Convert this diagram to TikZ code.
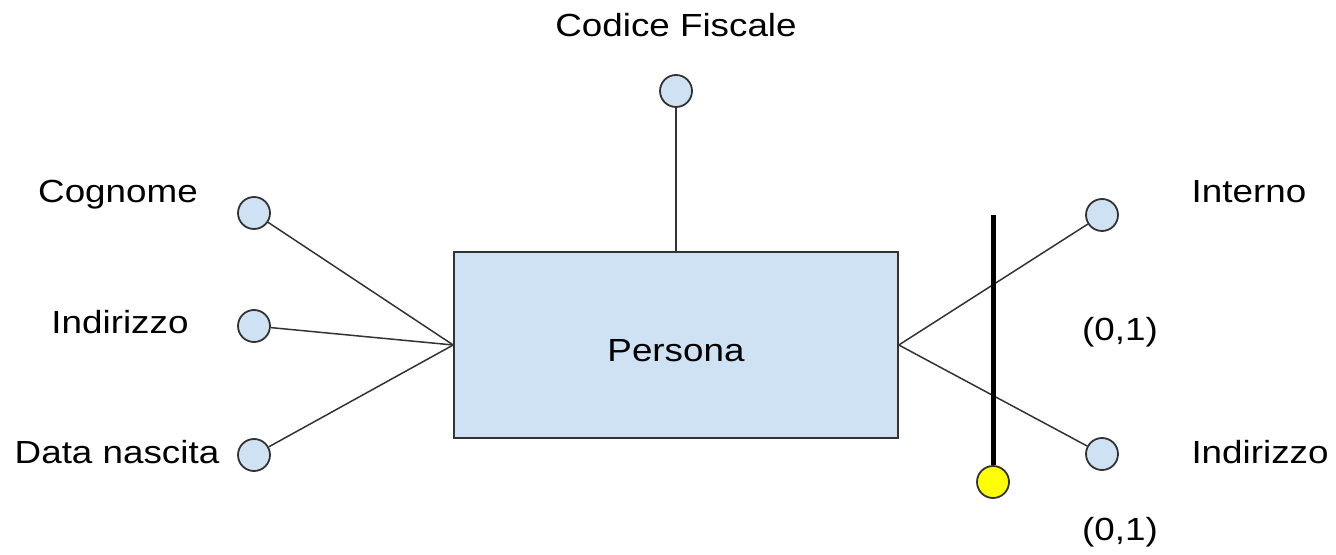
\documentclass[tikz,border=0pt]{standalone}
\usepackage{fontspec}
\setmainfont[FakeStretch=1.15]{Liberation Sans}
\definecolor{attrblue}{HTML}{CFE2F3}
\definecolor{edgegray}{HTML}{333333}
\definecolor{cardyellow}{HTML}{FFFF00}
\begin{document}
\begin{tikzpicture}[x=0.5pt, y=-0.5pt,
        attr/.style={circle, draw=edgegray, line width=0.9pt, fill=attrblue, minimum size=16pt, inner sep=0pt},
        ent/.style={draw=edgegray, line width=0.8pt, fill=attrblue, minimum width=222pt, minimum height=93pt, inner sep=0pt},
        lbl/.style={anchor=base, inner sep=0pt, font=\fontsize{16pt}{19pt}\selectfont},
        link/.style={draw=edgegray, line width=0.75pt}]

        \useasboundingbox (0, 0) rectangle (1336, 555);

        \node (p) at (676, 345) [ent] {};
        \node (p-t) at (676, 361) [lbl] {Persona};

        \node (t-1) at (676, 91) [attr] {};
        \node (t-1-t) at (676, 37) [lbl] {Codice Fiscale};

        \node (l-1) at (254, 213) [attr] {};
        \node (l-2) at (254, 326) [attr] {};
        \node (l-3) at (254, 455) [attr] {};
        \node (l-1-t) at (118, 203) [lbl] {Cognome};
        \node (l-2-t) at (120, 333) [lbl] {Indirizzo};
        \node (l-3-t) at (117, 463) [lbl] {Data nascita};

        \node (r-1) at (1102, 215) [attr] {};
        \node (r-2) at (1102, 454) [attr] {};
        \node (r-1-t) at (1249, 203) [lbl] {Interno};
        \node (r-2-t) at (1260, 463) [lbl] {Indirizzo};
        \node (r-1-c) at (1120, 340) [lbl] {(0,1)};
        \node (r-2-c) at (1120, 540) [lbl] {(0,1)};

        \draw[link] (t-1) -- (p.north);

        \draw[link] (l-1) -- (p.west);
        \draw[link] (l-2) -- (p.west);
        \draw[link] (l-3) -- (p.west);

        \draw[link] (p.east) -- (r-1);
        \draw[link] (p.east) -- (r-2);

        \node (y-1) at (993, 482) [attr, fill=cardyellow] {};
        \coordinate (k-1) at (y-1 |- 0, 215);
        \draw[line width=2.5pt, black] (k-1) -- (y-1.north);

    \end{tikzpicture}
\end{document}
